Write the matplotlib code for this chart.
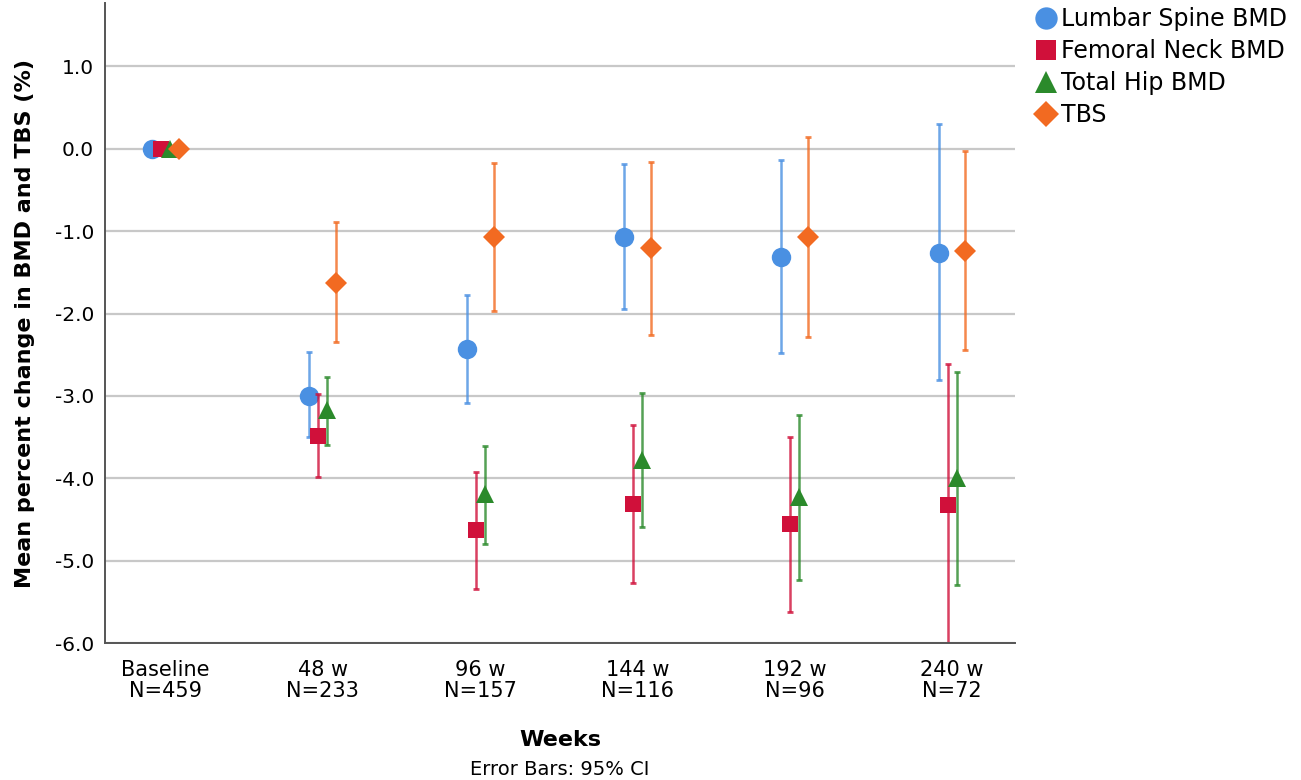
import numpy as np
import matplotlib
matplotlib.use("Agg")
import matplotlib.pyplot as plt

plt.rcParams['font.family'] = ['DejaVu Sans']
plt.rcParams['axes.unicode_minus'] = False

nan = np.nan

# time points (x categories)
categories = ["Baseline\nN=459", "48 w\nN=233", "96 w\nN=157",
              "144 w\nN=116", "192 w\nN=96", "240 w\nN=72"]

# mean percent change and 95% CI bounds per measure
lumbar_mean = [0.0, -3.00, -2.43, -1.07, -1.31, -1.26]
lumbar_lo = [nan, -3.50, -3.09, -1.94, -2.48, -2.81]
lumbar_hi = [nan, -2.47, -1.77, -0.19, -0.14, 0.30]

femoral_mean = [0.0, -3.49, -4.63, -4.31, -4.56, -4.32]
femoral_lo = [nan, -3.98, -5.35, -5.27, -5.62, -6.03]
femoral_hi = [nan, -2.98, -3.92, -3.35, -3.50, -2.61]

hip_mean = [0.0, -3.17, -4.19, -3.78, -4.23, -4.00]
hip_lo = [nan, -3.60, -4.80, -4.59, -5.24, -5.29]
hip_hi = [nan, -2.77, -3.61, -2.97, -3.23, -2.71]

tbs_mean = [0.0, -1.63, -1.07, -1.21, -1.07, -1.24]
tbs_lo = [nan, -2.35, -1.97, -2.26, -2.28, -2.44]
tbs_hi = [nan, -0.89, -0.17, -0.16, 0.14, -0.03]

series_names = ["Lumbar Spine BMD", "Femoral Neck BMD", "Total Hip BMD", "TBS"]

series = [
    (lumbar_mean, lumbar_lo, lumbar_hi),
    (femoral_mean, femoral_lo, femoral_hi),
    (hip_mean, hip_lo, hip_hi),
    (tbs_mean, tbs_lo, tbs_hi),
]
colors = ['#4A90E2', '#D0103A', '#2B8A2B', '#F26A21']
markers = ['o', 's', '^', 'D']
msizes = [14, 12, 13.5, 11.5]
offsets = [-0.085, -0.028, 0.028, 0.085]

fig = plt.figure(figsize=(13.01, 7.8), dpi=100)
ax = fig.add_axes([0.0807, 0.1756, 0.6995, 0.8205])

x = np.arange(len(categories))
handles = []
for (mean, lo, hi), name, c, m, ms, off in zip(series, series_names, colors,
                                               markers, msizes, offsets):
    mean = np.array(mean)
    lo = np.array(lo)
    hi = np.array(hi)
    xs = x + off
    ok = ~np.isnan(lo)
    # CI bars first, then the mean markers of the same series
    ax.errorbar(xs[ok], mean[ok], yerr=[mean[ok] - lo[ok], hi[ok] - mean[ok]],
                fmt='none', ecolor=c, elinewidth=1.8, capsize=2.5, capthick=2,
                alpha=0.8)
    h, = ax.plot(xs, mean, linestyle='none', marker=m, markersize=ms,
                 color=c, markeredgewidth=0, label=name)
    handles.append(h)

ax.set_xlim(-0.385, 5.40)
ax.set_ylim(-6.0, 1.77)
ax.set_yticks(np.arange(-6, 2, 1.0))
ax.set_yticklabels(["%.1f" % v for v in np.arange(-6, 2, 1.0)], fontsize=14.5)
ax.set_xticks(x)
ax.set_xticklabels(categories, fontsize=15, linespacing=1.1)
ax.tick_params(axis='both', length=0)
ax.tick_params(axis='y', pad=8)
ax.tick_params(axis='x', pad=12)

ax.yaxis.grid(True, color='#C8C8C8', linewidth=1.6)
ax.set_axisbelow(True)
for side in ['top', 'right']:
    ax.spines[side].set_visible(False)
for side in ['left', 'bottom']:
    ax.spines[side].set_color('#555555')
    ax.spines[side].set_linewidth(1.4)

ax.set_ylabel("Mean percent change in BMD and TBS (%)", fontsize=16,
              fontweight='bold', labelpad=14)
fig.text(0.4305, 0.051, "Weeks", ha='center', va='center', fontsize=16,
         fontweight='bold')
fig.text(0.4305, 0.014, "Error Bars: 95% CI", ha='center', va='center',
         fontsize=14)

fig.legend(handles=handles, loc='upper left', bbox_to_anchor=(0.783, 1.012),
           frameon=False, fontsize=17, handlelength=0.9, handletextpad=0.2,
           labelspacing=0.34, borderpad=0.2, markerscale=1.15)

fig.savefig("out.png", dpi=100)
